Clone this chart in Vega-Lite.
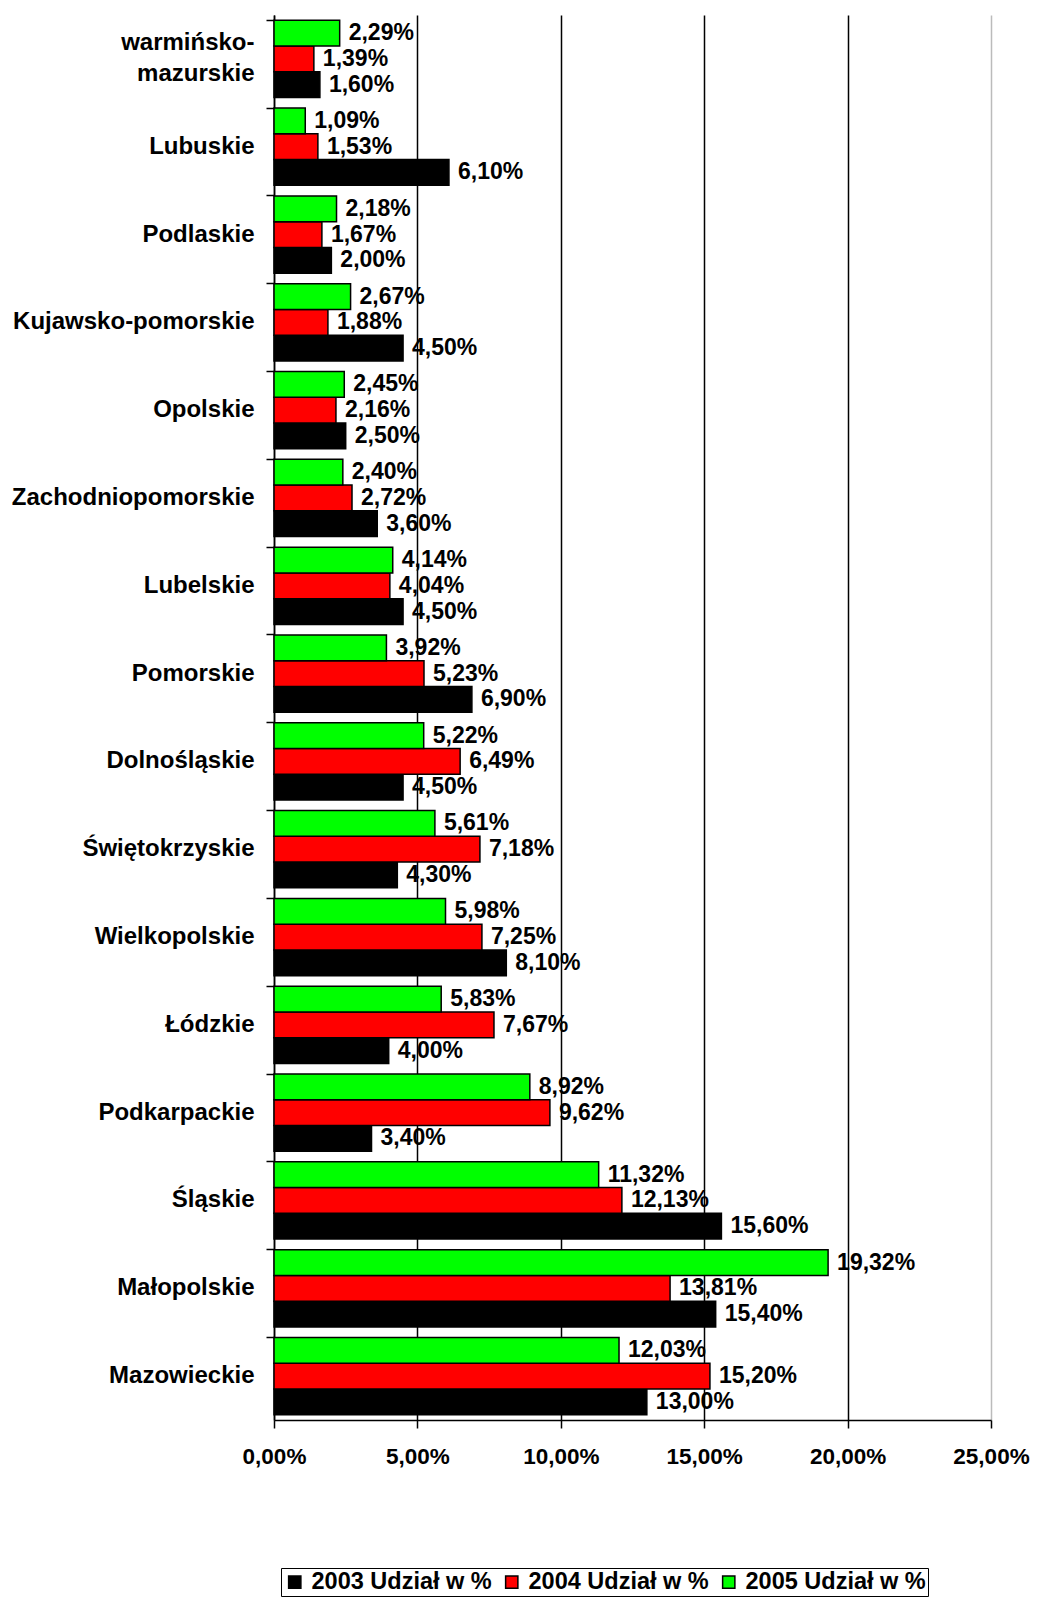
{
  "$schema": "https://vega.github.io/schema/vega-lite/v6.json",
  "autosize": {"type": "none"},
  "width": 717,
  "height": 1405,
  "padding": {"left": 274, "top": 15, "right": 47, "bottom": 178},
  "background": "white",
  "config": {
    "locale": {"number": {"decimal": ",", "thousands": " ", "grouping": [3], "currency": ["", " zł"]}},
    "font": "Liberation Sans",
    "view": {"stroke": null}
  },
  "data": {
    "values": [
      {"region": "warmińsko-mazurskie", "series": "2003 Udział w %", "v": 0.016},
      {"region": "warmińsko-mazurskie", "series": "2004 Udział w %", "v": 0.0139},
      {"region": "warmińsko-mazurskie", "series": "2005 Udział w %", "v": 0.0229},
      {"region": "Lubuskie", "series": "2003 Udział w %", "v": 0.061},
      {"region": "Lubuskie", "series": "2004 Udział w %", "v": 0.0153},
      {"region": "Lubuskie", "series": "2005 Udział w %", "v": 0.0109},
      {"region": "Podlaskie", "series": "2003 Udział w %", "v": 0.02},
      {"region": "Podlaskie", "series": "2004 Udział w %", "v": 0.0167},
      {"region": "Podlaskie", "series": "2005 Udział w %", "v": 0.0218},
      {"region": "Kujawsko-pomorskie", "series": "2003 Udział w %", "v": 0.045},
      {"region": "Kujawsko-pomorskie", "series": "2004 Udział w %", "v": 0.0188},
      {"region": "Kujawsko-pomorskie", "series": "2005 Udział w %", "v": 0.0267},
      {"region": "Opolskie", "series": "2003 Udział w %", "v": 0.025},
      {"region": "Opolskie", "series": "2004 Udział w %", "v": 0.0216},
      {"region": "Opolskie", "series": "2005 Udział w %", "v": 0.0245},
      {"region": "Zachodniopomorskie", "series": "2003 Udział w %", "v": 0.036},
      {"region": "Zachodniopomorskie", "series": "2004 Udział w %", "v": 0.0272},
      {"region": "Zachodniopomorskie", "series": "2005 Udział w %", "v": 0.024},
      {"region": "Lubelskie", "series": "2003 Udział w %", "v": 0.045},
      {"region": "Lubelskie", "series": "2004 Udział w %", "v": 0.0404},
      {"region": "Lubelskie", "series": "2005 Udział w %", "v": 0.0414},
      {"region": "Pomorskie", "series": "2003 Udział w %", "v": 0.069},
      {"region": "Pomorskie", "series": "2004 Udział w %", "v": 0.0523},
      {"region": "Pomorskie", "series": "2005 Udział w %", "v": 0.0392},
      {"region": "Dolnośląskie", "series": "2003 Udział w %", "v": 0.045},
      {"region": "Dolnośląskie", "series": "2004 Udział w %", "v": 0.0649},
      {"region": "Dolnośląskie", "series": "2005 Udział w %", "v": 0.0522},
      {"region": "Świętokrzyskie", "series": "2003 Udział w %", "v": 0.043},
      {"region": "Świętokrzyskie", "series": "2004 Udział w %", "v": 0.0718},
      {"region": "Świętokrzyskie", "series": "2005 Udział w %", "v": 0.0561},
      {"region": "Wielkopolskie", "series": "2003 Udział w %", "v": 0.081},
      {"region": "Wielkopolskie", "series": "2004 Udział w %", "v": 0.0725},
      {"region": "Wielkopolskie", "series": "2005 Udział w %", "v": 0.0598},
      {"region": "Łódzkie", "series": "2003 Udział w %", "v": 0.04},
      {"region": "Łódzkie", "series": "2004 Udział w %", "v": 0.0767},
      {"region": "Łódzkie", "series": "2005 Udział w %", "v": 0.0583},
      {"region": "Podkarpackie", "series": "2003 Udział w %", "v": 0.034},
      {"region": "Podkarpackie", "series": "2004 Udział w %", "v": 0.0962},
      {"region": "Podkarpackie", "series": "2005 Udział w %", "v": 0.0892},
      {"region": "Śląskie", "series": "2003 Udział w %", "v": 0.156},
      {"region": "Śląskie", "series": "2004 Udział w %", "v": 0.1213},
      {"region": "Śląskie", "series": "2005 Udział w %", "v": 0.1132},
      {"region": "Małopolskie", "series": "2003 Udział w %", "v": 0.154},
      {"region": "Małopolskie", "series": "2004 Udział w %", "v": 0.1381},
      {"region": "Małopolskie", "series": "2005 Udział w %", "v": 0.1932},
      {"region": "Mazowieckie", "series": "2003 Udział w %", "v": 0.13},
      {"region": "Mazowieckie", "series": "2004 Udział w %", "v": 0.152},
      {"region": "Mazowieckie", "series": "2005 Udział w %", "v": 0.1203}
    ]
  },
  "encoding": {
    "y": {
      "field": "region",
      "type": "nominal",
      "sort": null,
      "scale": {"paddingInner": 0.12, "paddingOuter": 0.06},
      "axis": {
        "title": null,
        "domainColor": "black",
        "domainWidth": 1.5,
        "tickColor": "black",
        "tickWidth": 1.5,
        "tickSize": 8,
        "bandPosition": 0,
        "labelFont": "Liberation Sans",
        "labelFontWeight": "bold",
        "labelFontSize": 24,
        "labelLineHeight": 31,
        "labelColor": "black",
        "labelPadding": 12,
        "labelLimit": 400,
        "labelOffset": {"condition": {"test": "datum.value == 'warmińsko-mazurskie'", "value": -16}, "value": 0},
        "labelExpr": "datum.value == 'warmińsko-mazurskie' ? ['warmińsko-', 'mazurskie\u00a0'] : datum.value"
      }
    },
    "yOffset": {
      "field": "series",
      "type": "nominal",
      "sort": ["2005 Udział w %", "2004 Udział w %", "2003 Udział w %"],
      "scale": {"paddingInner": 0, "paddingOuter": 0}
    },
    "x": {
      "field": "v",
      "type": "quantitative",
      "scale": {"domain": [0, 0.25], "nice": false},
      "axis": {
        "title": null,
        "format": ".2%",
        "values": [0, 0.05, 0.1, 0.15, 0.2, 0.25],
        "domainColor": "black",
        "domainWidth": 1.5,
        "tickColor": "black",
        "tickWidth": 1.5,
        "tickSize": 8,
        "grid": true,
        "gridColor": {"condition": {"test": "datum.value >= 0.249", "value": "#bbbbbb"}, "value": "black"},
        "gridWidth": 1.5,
        "gridOpacity": 1,
        "labelFont": "Liberation Sans",
        "labelFontWeight": "bold",
        "labelFontSize": 22.5,
        "labelColor": "black",
        "labelPadding": 17,
        "labelFlush": false,
        "labelOverlap": false
      }
    }
  },
  "layer": [
    {
      "mark": {"type": "bar", "stroke": "black", "strokeWidth": 1.5},
      "encoding": {
        "color": {
          "field": "series",
          "type": "nominal",
          "scale": {
            "domain": ["2003 Udział w %", "2004 Udział w %", "2005 Udział w %"],
            "range": ["#000000", "#ff0000", "#00ff00"]
          },
          "legend": {
            "title": null,
            "orient": "none",
            "direction": "horizontal",
            "legendX": 7,
            "legendY": 1553,
            "symbolType": "square",
            "symbolSize": 150,
            "symbolStrokeColor": "black",
            "symbolStrokeWidth": 1.5,
            "symbolOpacity": 1,
            "labelFont": "Liberation Sans",
            "labelFontWeight": "bold",
            "labelFontSize": 23.5,
            "labelColor": "black",
            "labelLimit": 400,
            "labelOffset": 5,
            "columnPadding": 8,
            "padding": 2,
            "strokeColor": "black",
            "fillColor": "white"
          }
        }
      }
    },
    {
      "mark": {
        "type": "text",
        "align": "left",
        "baseline": "middle",
        "dx": 9,
        "font": "Liberation Sans",
        "fontWeight": "bold",
        "fontSize": 23,
        "color": "black"
      },
      "encoding": {
        "text": {"field": "v", "type": "quantitative", "format": ".2%"}
      }
    }
  ]
}
